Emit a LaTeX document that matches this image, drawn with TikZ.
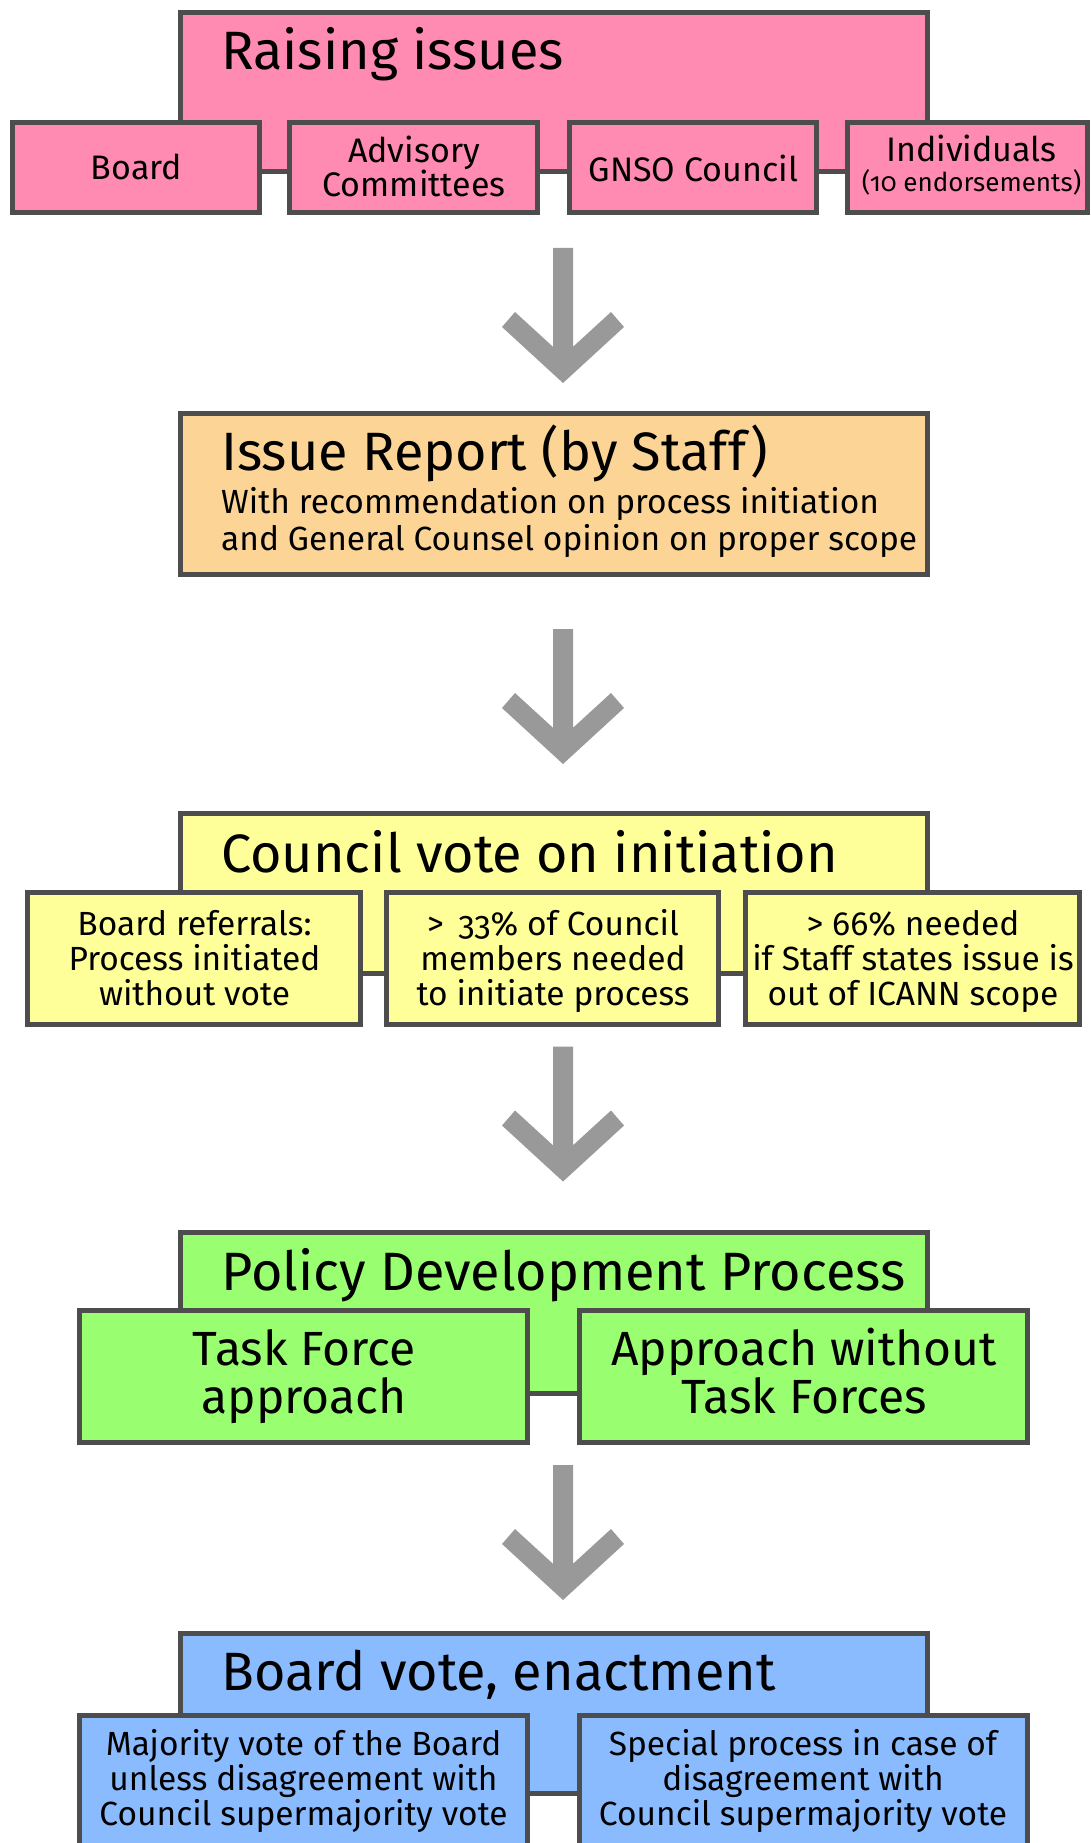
\documentclass[tikz,border=0pt]{standalone}
\usepackage{fontspec}
\setmainfont{Fira Sans}[Numbers=OldStyle]
\definecolor{pinkfill}{RGB}{255,138,178}
\definecolor{orangefill}{RGB}{252,213,150}
\definecolor{yellowfill}{RGB}{255,255,153}
\definecolor{greenfill}{RGB}{153,255,112}
\definecolor{bluefill}{RGB}{138,187,255}
\definecolor{edgegray}{RGB}{77,77,77}
\definecolor{arrowgray}{RGB}{153,153,153}
\tikzset{
  box/.style={draw=edgegray, line width=5pt, rectangle, inner sep=0pt, outer sep=0pt},
  titletext/.style={anchor=base west, inner sep=0pt, font=\fontsize{54}{60}\selectfont},
  subtext/.style={anchor=base west, inner sep=0pt, font=\fontsize{33.5}{37}\selectfont},
  pline/.style={anchor=base, inner sep=0pt, font=\fontsize{34}{35}\selectfont},
  yline/.style={anchor=base, inner sep=0pt, font=\fontsize{33.5}{35}\selectfont},
  gline/.style={anchor=base, inner sep=0pt, font=\fontsize{48}{48}\selectfont},
  downarrow/.pic={\fill[arrowgray] (-10,0) -- (10,0) -- (10,98.8) -- (48,64) -- (61,79) -- (0,135) -- (-61,79) -- (-48,64) -- (-10,98.8) -- cycle;}
}
\begin{document}
\begin{tikzpicture}[x=1pt,y=-1pt]
\useasboundingbox (0,0) rectangle (1090,1843);
\fill[white] (0,0) rectangle (1090,1843);
\clip (0,0) rectangle (1090,1843);

% Section 1: Raising issues
\node[box, fill=pinkfill, minimum width=747, minimum height=159.5] (s1) at (553.5,92.25) {};
\node[titletext] (t1) at (221,70) {Raising issues};
\node[box, fill=pinkfill, minimum width=246.5, minimum height=90] (b1) at (135.75,167.5) {};
\node[box, fill=pinkfill, minimum width=248, minimum height=90] (b2) at (413,167.5) {};
\node[box, fill=pinkfill, minimum width=247, minimum height=90] (b3) at (692.5,167.5) {};
\node[box, fill=pinkfill, minimum width=240, minimum height=90] (b4) at (967.5,167.5) {};
\node[pline] (b1l1) at (136.5,180) {Board};
\node[pline] (b2l1) at (414,163) {Advisory};
\node[pline] (b2l2) at (414,197) {Committees};
\node[pline] (b3l1) at (693.5,182) {GNSO Council};
\node[pline] (b4l1) at (971.5,162) {Individuals};
\node[pline, font=\fontsize{26}{28}\selectfont] (b4l2) at (971.5,192) {(10 endorsements)};

\coordinate (a1) at (563,248);
\pic at (a1) {downarrow};

% Section 2: Issue Report
\node[box, fill=orangefill, minimum width=747, minimum height=161] (s2) at (553.5,493.5) {};
\node[titletext] (t2) at (221,470) {Issue Report (by Staff)};
\node[subtext] (t2a) at (221,513) {With recommendation on process initiation};
\node[subtext] (t2b) at (221,550) {and General Counsel opinion on proper scope};

\coordinate (a2) at (563,629);
\pic at (a2) {downarrow};

% Section 3: Council vote
\node[box, fill=yellowfill, minimum width=747, minimum height=160] (s3) at (553.5,893) {};
\node[titletext] (t3) at (221,872) {Council vote on initiation};
\node[box, fill=yellowfill, minimum width=333, minimum height=132] (c1) at (194,958.5) {};
\node[box, fill=yellowfill, minimum width=332, minimum height=132] (c2) at (552.5,958.5) {};
\node[box, fill=yellowfill, minimum width=333.5, minimum height=132] (c3) at (912.25,958.5) {};
\node[yline] (c1l1) at (194.5,935) {Board referrals:};
\node[yline] (c1l2) at (194.5,970) {Process initiated};
\node[yline] (c1l3) at (194.5,1005) {without vote};
\node[yline] (c2l1) at (553,935) {>\, 33\% of Council};
\node[yline] (c2l2) at (553,970) {members needed};
\node[yline] (c2l3) at (553,1005) {to initiate process};
\node[yline] (c3l1) at (913,935) {> 66\% needed};
\node[yline] (c3l2) at (913,970) {if Staff states issue is};
\node[yline] (c3l3) at (913,1005) {out of ICANN scope};

\coordinate (a3) at (563,1046.5);
\pic at (a3) {downarrow};

% Section 4: Policy Development Process
\node[box, fill=greenfill, minimum width=747, minimum height=161] (s4) at (553.5,1312.5) {};
\node[titletext] (t4) at (221,1290) {Policy Development Process};
\node[box, fill=greenfill, minimum width=448, minimum height=132] (d1) at (303.5,1376) {};
\node[box, fill=greenfill, minimum width=448, minimum height=132] (d2) at (803,1376) {};
\node[gline] (d1l1) at (304,1365) {Task Force};
\node[gline] (d1l2) at (304,1413) {approach};
\node[gline] (d2l1) at (804,1365) {Approach without};
\node[gline] (d2l2) at (804,1413) {Task Forces};

\coordinate (a4) at (563,1465);
\pic at (a4) {downarrow};

% Section 5: Board vote
\node[box, fill=bluefill, minimum width=747, minimum height=160] (s5) at (553.5,1713) {};
\node[titletext] (t5) at (221,1690) {Board vote, enactment};
\node[box, fill=bluefill, minimum width=448, minimum height=132] (e1) at (303.5,1781.5) {};
\node[box, fill=bluefill, minimum width=448, minimum height=132] (e2) at (803,1781.5) {};
\node[yline] (e1l1) at (303.5,1755) {Majority vote of the Board};
\node[yline] (e1l2) at (303.5,1790) {unless disagreement with};
\node[yline] (e1l3) at (303.5,1825) {Council supermajority vote};
\node[yline] (e2l1) at (803,1755) {Special process in case of};
\node[yline] (e2l2) at (803,1790) {disagreement with};
\node[yline] (e2l3) at (803,1825) {Council supermajority vote};
\end{tikzpicture}
\end{document}
